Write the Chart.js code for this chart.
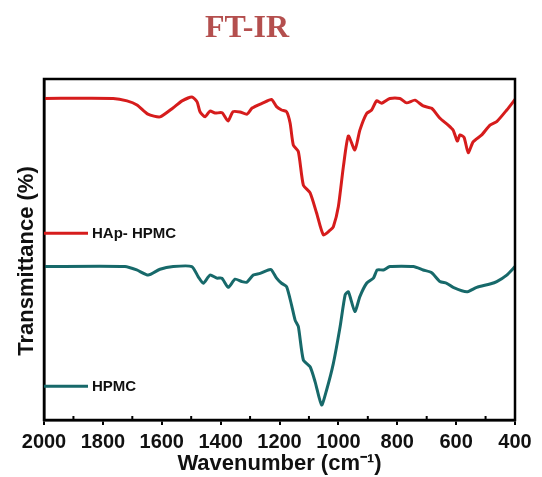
<!DOCTYPE html>
<html>
<head>
<meta charset="utf-8">
<script src="https://cdn.jsdelivr.net/npm/chart.js@4/dist/chart.umd.min.js"></script>
<style>
  html, body { margin: 0; padding: 0; background: #fff; }
  #wrap { width: 542px; height: 477px; position: relative; }
</style>
</head>
<body>
<div id="wrap"><canvas id="c"></canvas></div>
<script>
// ---- Data ----
const chartTitle = 'FT-IR';
const xAxisTitle = 'Wavenumber (cm\u207B\u00B9)';
const yAxisTitle = 'Transmittance (%)';
const xTicks = [2000, 1800, 1600, 1400, 1200, 1000, 800, 600, 400];
const seriesNames = ['HAp- HPMC', 'HPMC'];

const hapWavenumber = [2000, 1765, 1718, 1684, 1647, 1606, 1562, 1531, 1497, 1480, 1470, 1453, 1436, 1419, 1395, 1375, 1358, 1334, 1310, 1293, 1256, 1227, 1210, 1193, 1176, 1164, 1153, 1136, 1119, 1096, 1074, 1051, 1028, 1017, 1000, 983, 966, 944, 927, 904, 887, 870, 853, 825, 791, 768, 740, 712, 683, 655, 627, 610, 596, 587, 573, 559, 542, 513, 485, 462, 428, 400];
const hapTransmittance = [94.3, 94.3, 93.6, 92.4, 89.7, 88.9, 91.5, 93.6, 94.7, 93.3, 90.4, 88.9, 90.6, 90.0, 90.1, 87.7, 90.4, 90.3, 89.7, 91.5, 93.0, 94.0, 91.9, 90.9, 90.4, 87.1, 80.6, 78.7, 68.9, 66.6, 60.7, 54.3, 55.7, 56.7, 62.6, 74.3, 83.3, 79.2, 85.0, 89.9, 90.9, 93.6, 92.9, 94.3, 94.3, 93.0, 93.8, 92.1, 91.4, 88.5, 86.5, 85.0, 81.8, 83.6, 82.9, 78.4, 81.6, 83.6, 86.5, 87.5, 90.9, 94.0];

const hpmcWavenumber = [2000, 1725, 1685, 1646, 1606, 1561, 1498, 1476, 1459, 1436, 1413, 1396, 1374, 1351, 1328, 1311, 1289, 1266, 1238, 1227, 1210, 1193, 1176, 1159, 1147, 1136, 1119, 1096, 1079, 1057, 1040, 1017, 994, 977, 966, 944, 927, 904, 881, 868, 847, 825, 745, 712, 683, 655, 632, 610, 564, 530, 485, 462, 428, 400];
const hpmcTransmittance = [45.0, 45.0, 44.0, 42.5, 44.2, 45.0, 45.0, 42.0, 40.1, 42.5, 41.6, 41.6, 38.9, 41.3, 40.6, 40.4, 42.5, 43.0, 44.0, 44.0, 41.6, 40.1, 39.1, 33.7, 29.3, 27.4, 17.6, 15.6, 11.2, 4.4, 8.8, 16.6, 27.4, 36.7, 37.6, 31.8, 36.2, 40.1, 41.6, 44.0, 44.0, 45.0, 45.0, 44.0, 43.2, 40.6, 40.1, 38.9, 37.6, 38.9, 39.9, 40.6, 42.5, 45.0];

// ---- Styles ----
const colors = ['#d61c1c', '#17696a'];
const labelYValue = [54.8, 9.9]; // legend-line heights inside the plot, in axis units
const minorTicks = [1900, 1700, 1500, 1300, 1100, 900, 700, 500];

function toPoints(xs, ys) { return xs.map((x, i) => ({ x: x, y: ys[i] })); }

const decorations = {
  id: 'decorations',
  afterDatasetsDraw(chart) {
    const { ctx, chartArea: a, scales } = chart;
    ctx.save();
    // frame
    ctx.strokeStyle = '#000';
    ctx.lineWidth = 2.5;
    ctx.strokeRect(a.left, a.top, a.right - a.left, a.bottom - a.top);
    // minor ticks (inward)
    ctx.lineWidth = 2;
    minorTicks.forEach(v => {
      const x = scales.x.getPixelForValue(v);
      ctx.beginPath(); ctx.moveTo(x, a.bottom); ctx.lineTo(x, a.bottom - 4); ctx.stroke();
    });
    // in-plot series labels
    seriesNames.forEach((name, i) => {
      const y = scales.y.getPixelForValue(labelYValue[i]);
      ctx.strokeStyle = colors[i];
      ctx.lineWidth = 3;
      ctx.beginPath(); ctx.moveTo(a.left, y); ctx.lineTo(a.left + 44, y); ctx.stroke();
      ctx.fillStyle = '#111';
      ctx.font = 'bold 15px "Liberation Sans", Arial, sans-serif';
      ctx.textBaseline = 'middle';
      ctx.textAlign = 'left';
      ctx.fillText(name, a.left + 48, y + 1);
    });
    // main title
    ctx.fillStyle = '#b44f4e';
    ctx.font = 'bold 32px "Liberation Serif", "Times New Roman", serif';
    ctx.textAlign = 'center';
    ctx.textBaseline = 'middle';
    ctx.fillText(chartTitle, 247, 29);
    // y axis title
    ctx.save();
    ctx.translate(27, 261);
    ctx.rotate(-Math.PI / 2);
    ctx.fillStyle = '#111';
    ctx.font = 'bold 22px "Liberation Sans", Arial, sans-serif';
    ctx.fillText(yAxisTitle, 0, 0);
    ctx.restore();
    ctx.restore();
  }
};

new Chart(document.getElementById('c'), {
  type: 'scatter',
  data: {
    datasets: [
      { label: seriesNames[0], data: toPoints(hapWavenumber, hapTransmittance) },
      { label: seriesNames[1], data: toPoints(hpmcWavenumber, hpmcTransmittance) }
    ].map((d, i) => Object.assign(d, {
      showLine: true, borderColor: colors[i], backgroundColor: colors[i],
      borderWidth: 3, pointRadius: 0, tension: 0.2,
      borderJoinStyle: 'round', borderCapStyle: 'round'
    }))
  },
  options: {
    responsive: true,
    maintainAspectRatio: false,
    animation: false,
    devicePixelRatio: 1,
    layout: { padding: { top: 79, right: 27, bottom: 0, left: 0 } },
    plugins: { legend: { display: false }, tooltip: { enabled: false }, title: { display: false } },
    scales: {
      x: {
        type: 'linear', reverse: true, min: 400, max: 2000,
        afterBuildTicks(scale) { scale.ticks = xTicks.map(v => ({ value: v })); },
        afterFit(scale) { scale.height = 57; },
        grid: { display: true, drawOnChartArea: false, drawTicks: true, tickLength: 5, color: '#000', lineWidth: 2 },
        border: { display: true, color: '#000', width: 2.5 },
        ticks: {
          color: '#111', padding: 5, autoSkip: false, maxRotation: 0,
          callback: (v) => String(v),
          font: { family: '"Liberation Sans", Arial, sans-serif', size: 20, weight: 'bold' }
        },
        title: {
          display: true, text: xAxisTitle, color: '#111', padding: 0,
          font: { family: '"Liberation Sans", Arial, sans-serif', size: 22, weight: 'bold' }
        }
      },
      y: {
        type: 'linear', min: 0, max: 100,
        afterFit(scale) { scale.width = 44; },
        grid: { display: false },
        border: { display: true, color: '#000', width: 2.5 },
        ticks: { display: false }
      }
    }
  },
  plugins: [decorations]
});
</script>
</body>
</html>
